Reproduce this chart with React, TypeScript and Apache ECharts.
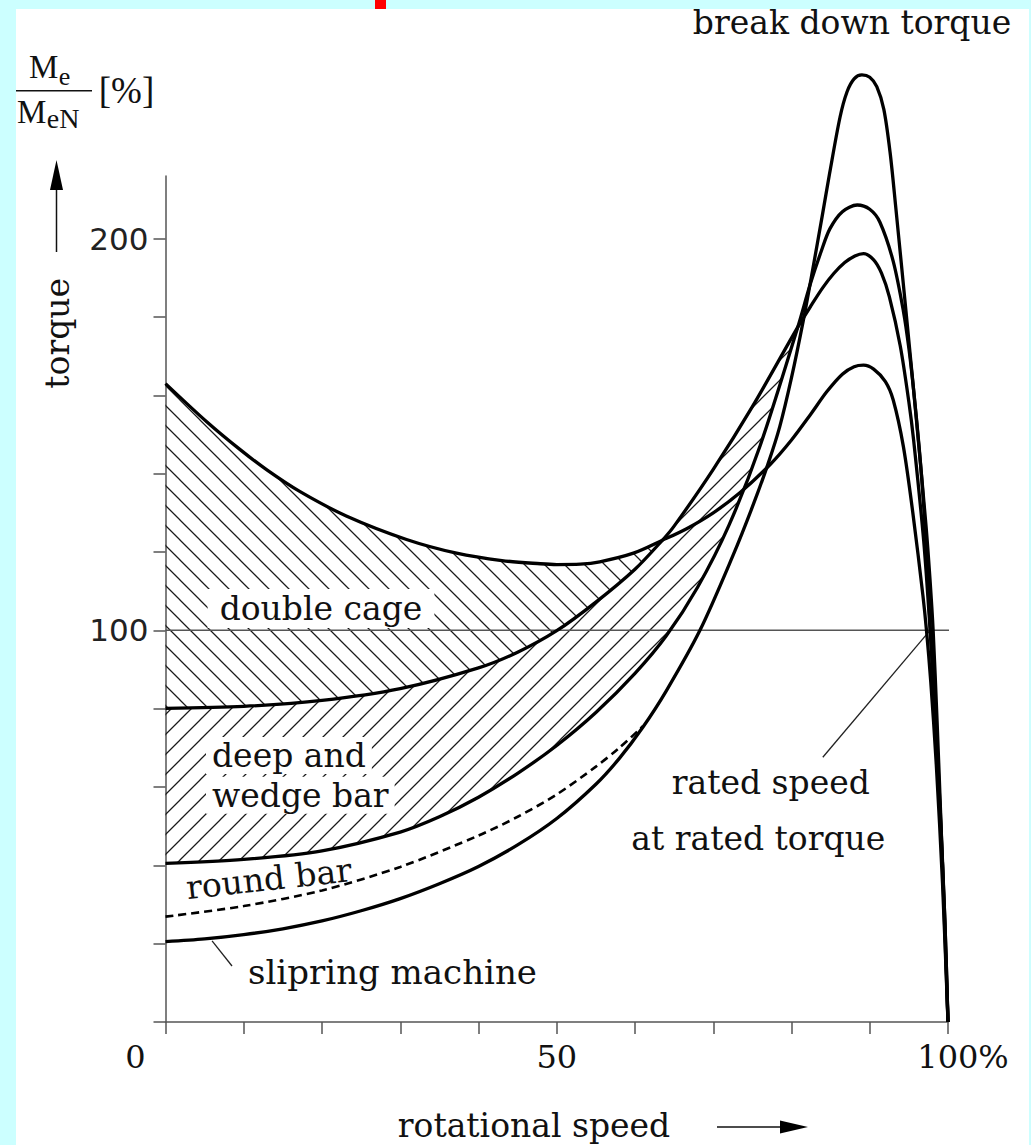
import React, { useEffect, useRef } from 'react';
import * as echarts from 'echarts';

// ---- data (x: rotational speed %, y: torque %) ----
const doubleCage: number[][] = [
  [0, 163], [5.3, 153.2], [9.5, 146.2], [13, 140.9], [17.2, 135.4], [23.1, 129.2], [30.8, 123.2],
  [37.2, 119.7], [43, 117.8], [47.9, 117], [50, 116.8], [53, 116.9], [55.5, 117.5], [59.8, 119.7],
  [63.5, 123], [66.6, 125.95], [70, 130], [73.4, 135.1], [77.3, 142.4], [80, 148.6], [82.5, 155.3],
  [84.5, 160.9], [86.5, 165.4], [88, 167.3], [89.2, 167.7], [90.5, 166.7], [92, 163.5], [93, 158.8],
  [94.3, 146.9], [95.5, 130.1], [96.8, 108.8], [97.25, 100], [97.8, 86.8], [98.5, 65.8],
  [99.3, 35.4], [100, 0],
];
const deepBarUpper: number[][] = [
  [0, 80.1], [10, 80.6], [20, 82.1], [30, 85.1], [40, 90.4], [45, 94.4], [50, 99.9], [55, 107.2],
  [60, 115.6], [63.5, 123], [65, 126.6], [70, 141.1], [75, 157.1], [80.8, 177.4], [82.6, 183.2],
  [84, 187.5], [85.4, 191.1], [86.8, 193.9], [88.1, 195.6], [89.2, 196.2], [90.5, 194.6],
  [91.5, 191.2], [92.5, 185.2], [93.9, 172.6], [95, 158.3], [95.6, 148.7], [96.9, 122.7],
  [97.7, 100.5], [98.3, 81], [99, 54.5], [99.6, 26], [100, 0],
];
const deepBarLower: number[][] = [
  [0, 40.5], [10, 41.5], [20, 43.7], [30, 48.5], [35, 52.4], [40, 57.4], [45, 63.5], [50, 70.6],
  [55, 79], [60, 89], [64, 98.6], [68, 111], [72, 126.8], [76, 147.2], [80.8, 177.4],
  [82.4, 188.4], [83.8, 196.8], [84.9, 202.5], [86.5, 206.9], [88.4, 208.6], [90, 207.5],
  [91.3, 204.2], [93, 194.2], [94.3, 181.5], [95, 172], [95.6, 161.5], [96.3, 147], [96.9, 131.5],
  [97.7, 102], [98.3, 80], [99, 53], [99.6, 26], [100, 0],
];
const roundBar: number[][] = [
  [0, 26.9], [10, 29.6], [20, 33.6], [30, 39.6], [40, 47.6], [45, 52.4], [50, 58.1], [55, 65.2],
  [58, 70], [61, 75.5],
];
const slipring: number[][] = [
  [0, 20.5], [5, 21.2], [10, 22.3], [15, 23.8], [20, 25.8], [25, 28.4], [30, 31.5], [35, 35.3],
  [40, 39.7], [45, 45.2], [50, 51.95], [55, 60.7], [58, 67.3], [61, 75.25], [64, 84.55],
  [68.3, 100], [72.5, 119], [75, 131.5], [77, 142.5], [78.5, 152], [80, 164.5], [81.5, 179],
  [82.7, 192], [83.9, 205.5], [84.9, 217], [86.2, 231], [87.1, 237.5], [88, 240.8], [89, 241.8],
  [90, 241.2], [90.9, 238.8], [91.8, 233], [92.6, 222], [93.3, 208.5], [94.8, 178], [96, 153],
  [97.2, 126.5], [97.7, 113], [98.1, 100], [98.6, 77], [99.1, 51], [99.6, 23], [100, 0],
];
const ratedTorqueLine: number[][] = [[0, 100], [100.6, 100]];
const ratedLeader: number[][] = [[84, 67.6], [97.7, 100]];
const slipLeader: number[][] = [[5.95, 20.7], [8.5, 14.3]];

const yTickValues = [0, 20, 40, 60, 80, 100, 120, 140, 160, 180, 200];
const yLabelValues = [100, 200];
const xLabelValues = [0, 50, 100];
const xLabelTexts: Record<number, string> = { 0: '{z|0}', 50: '50', 100: '{h|100}{p|%}' };

const doubleCageEnd = 63.5;
const deepBarEnd = 80.8;

function hatch(forward: boolean) {
  const c = document.createElement('canvas');
  c.width = 20;
  c.height = 20;
  const g = c.getContext('2d')!;
  g.strokeStyle = '#1a1a1a';
  g.lineWidth = 1.25;
  g.beginPath();
  if (forward) {
    g.moveTo(-2, 22); g.lineTo(22, -2);
    g.moveTo(-2, 2); g.lineTo(2, -2);
    g.moveTo(18, 22); g.lineTo(22, 18);
  } else {
    g.moveTo(-2, -2); g.lineTo(22, 22);
    g.moveTo(18, -2); g.lineTo(22, 2);
    g.moveTo(-2, 18); g.lineTo(2, 22);
  }
  g.stroke();
  return { image: c, repeat: 'repeat', imageWidth: 20, imageHeight: 20 };
}

function region(top: number[][], bottom: number[][], end: number) {
  const a = top.filter((p) => p[0] <= end);
  const b = bottom.filter((p) => p[0] <= end).slice().reverse();
  return a.concat(b);
}

const SERIF = '"DejaVu Serif"';
const TIMES = '"Liberation Serif"';

export default function App() {
  const ref = useRef<HTMLDivElement>(null);
  useEffect(() => {
    if (!ref.current) return;
    const chart = echarts.init(ref.current, null, { renderer: 'svg' });
    const upperRegion = region(doubleCage, deepBarUpper, doubleCageEnd);
    const lowerRegion = region(deepBarUpper, deepBarLower, deepBarEnd);
    const backHatch = hatch(false);
    const fwdHatch = hatch(true);

    const curve = (name: string, data: number[][], dashed = false) => ({
      name,
      type: 'line',
      data,
      smooth: 0.3,
      symbol: 'none',
      showSymbol: false,
      clip: false,
      silent: true,
      z: 5,
      lineStyle: { color: '#000', width: dashed ? 2.6 : 3.3, type: dashed ? [8, 5] : 'solid' },
    });
    const thin = (name: string, data: number[][], color: string, width: number) => ({
      name,
      type: 'line',
      data,
      symbol: 'none',
      showSymbol: false,
      clip: false,
      silent: true,
      z: 4,
      lineStyle: { color, width },
    });
    const hatchSeries = (name: string, pts: number[][], pattern: any) => ({
      name,
      type: 'custom',
      coordinateSystem: 'cartesian2d',
      data: [[0, 0]],
      z: 1,
      silent: true,
      clip: false,
      renderItem: (_p: any, api: any) => ({
        type: 'polygon',
        shape: { points: pts.map((p) => api.coord(p)) },
        style: { fill: pattern, stroke: null },
      }),
    });

    const txt = (text: string, x: number, y: number, size: number, opts: any = {}) => ({
      type: 'text',
      x,
      y,
      z: 3,
      rotation: opts.rotation || 0,
      style: {
        text,
        fontSize: size,
        fontFamily: opts.family || SERIF,
        fill: '#111',
        align: opts.align || 'center',
        textAlign: opts.align || 'center',
        verticalAlign: 'middle',
        textVerticalAlign: 'middle',
        backgroundColor: opts.bg || 'transparent',
        padding: opts.padding || 0,
      },
    });

    chart.setOption({
      animation: false,
      grid: { left: 165.5, right: 83, top: 176, bottom: 123, containLabel: false, outerBoundsMode: 'none' },
      xAxis: {
        type: 'value',
        min: 0,
        max: 100,
        interval: 10,
        splitLine: { show: false },
        axisLine: { show: true, onZero: false, lineStyle: { color: '#555', width: 1.5 } },
        axisTick: { show: true, inside: false, length: 12, lineStyle: { color: '#555', width: 1.5 } },
        axisLabel: {
          customValues: xLabelValues,
          margin: 19,
          fontFamily: SERIF,
          fontSize: 32,
          color: '#111',
          formatter: (v: number) => xLabelTexts[v] ?? '',
          rich: {
            z: { fontFamily: SERIF, fontSize: 32, color: '#111', padding: [0, 60, 0, 0] },
            h: { fontFamily: SERIF, fontSize: 32, color: '#111', padding: [0, 0, 0, 30] },
            p: { fontFamily: SERIF, fontSize: 32, color: '#111' },
          },
        },
      },
      yAxis: {
        type: 'value',
        min: 0,
        max: 216,
        interval: 20,
        splitLine: { show: false },
        axisLine: { show: true, lineStyle: { color: '#555', width: 1.5 } },
        axisTick: { show: true, inside: false, length: 12, customValues: yTickValues, lineStyle: { color: '#555', width: 1.5 } },
        axisLabel: {
          customValues: yLabelValues,
          margin: 17,
          fontFamily: '"DejaVu Sans"',
          fontSize: 31,
          color: '#222',
        },
      },
      series: [
        hatchSeries('double cage area', upperRegion, backHatch),
        hatchSeries('deep bar area', lowerRegion, fwdHatch),
        thin('rated torque', ratedTorqueLine, '#555', 1.5),
        thin('rated leader', ratedLeader, '#222', 1.3),
        thin('slipring leader', slipLeader, '#222', 1.3),
        curve('double cage', doubleCage),
        curve('deep bar upper', deepBarUpper),
        curve('deep bar lower', deepBarLower),
        curve('round bar', roundBar, true),
        curve('slipring', slipring),
      ],
      graphic: [
        txt('break down torque', 852, 22, 33),
        txt('double cage', 321, 608.6, 33, { bg: '#fff', padding: [3, 12] }),
        txt('deep and', 206, 755.6, 33, { align: 'left', bg: '#fff', padding: [2, 6] }),
        txt('wedge bar', 206, 795.3, 33, { align: 'left', bg: '#fff', padding: [2, 6] }),
        txt('round bar', 268.8, 878.7, 33, { rotation: 0.11 }),
        txt('rated speed', 770.8, 782, 33),
        txt('at rated torque', 758.3, 838.6, 33),
        txt('slipring machine', 392.5, 971.6, 34),
        txt('rotational speed', 534, 1125, 33),
        txt('torque', 57, 333.3, 33, { rotation: Math.PI / 2 }),
        txt('M', 29, 67, 33, { align: 'left', family: TIMES }),
        txt('e', 58.8, 76, 26, { align: 'left', family: TIMES }),
        txt('M', 17, 111.5, 33, { align: 'left', family: TIMES }),
        txt('eN', 46.8, 118.5, 28, { align: 'left', family: TIMES }),
        txt('[%]', 126.5, 90, 37, { family: TIMES }),
        { type: 'line', z: 3, shape: { x1: 16, y1: 90.7, x2: 92, y2: 90.7 }, style: { stroke: '#111', lineWidth: 1.5 } },
        { type: 'line', z: 3, shape: { x1: 56.5, y1: 252, x2: 56.5, y2: 185 }, style: { stroke: '#111', lineWidth: 1.5 } },
        { type: 'polygon', z: 3, shape: { points: [[50, 190], [56.5, 160], [63, 190]] }, style: { fill: '#000' } },
        { type: 'line', z: 3, shape: { x1: 717, y1: 1127, x2: 785, y2: 1127 }, style: { stroke: '#111', lineWidth: 1.5 } },
        { type: 'polygon', z: 3, shape: { points: [[780, 1120.5], [808, 1127], [780, 1133.5]] }, style: { fill: '#000' } },
      ],
    });
    return () => chart.dispose();
  }, []);

  return (
    <div style={{ position: 'fixed', left: 0, top: 0, width: 1031, height: 1145, background: '#ccffff', overflow: 'hidden' }}>
      <div style={{ position: 'absolute', left: 16, top: 9, width: 1013, height: 1136, background: '#ffffff' }} />
      <div style={{ position: 'absolute', left: 375, top: 0, width: 11, height: 9, background: '#ff0000' }} />
      <div ref={ref} style={{ position: 'absolute', left: 0, top: 0, width: 1031, height: 1145 }} />
    </div>
  );
}
